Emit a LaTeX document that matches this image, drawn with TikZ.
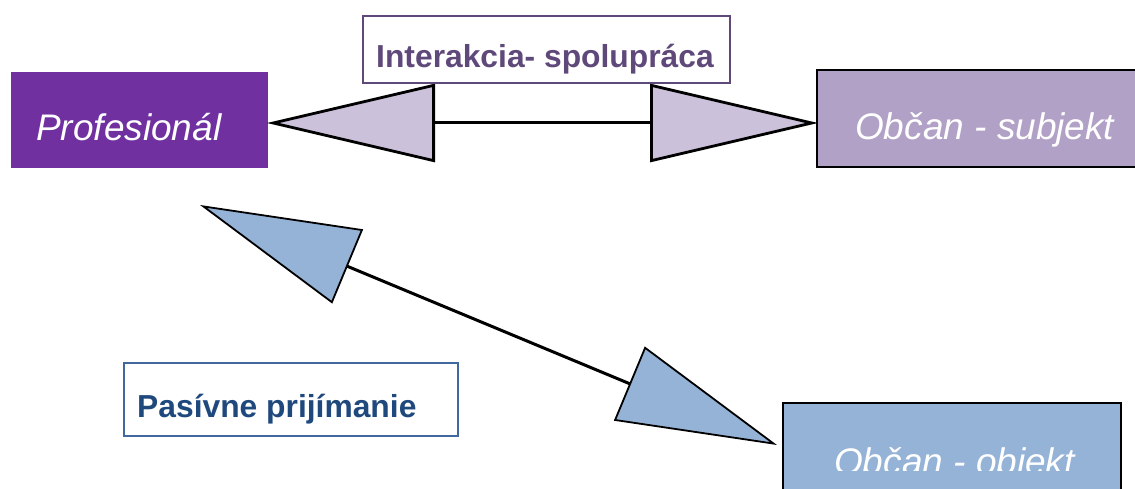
\documentclass[tikz,border=0pt]{standalone}
\usepackage{fontspec}
\setmainfont{Liberation Sans}
\usetikzlibrary{arrows.meta}
\definecolor{profc}{HTML}{7030A0}
\definecolor{subjc}{HTML}{B2A1C7}
\definecolor{lavc}{HTML}{CCC1DA}
\definecolor{bluec}{HTML}{95B3D7}
\definecolor{intc}{HTML}{5F497A}
\definecolor{pastext}{HTML}{1F497D}
\definecolor{pasline}{HTML}{41699E}
\begin{document}
\begin{tikzpicture}[x=1pt,y=-1pt,
  box/.style={inner sep=0pt, outer sep=0pt},
  biglbl/.style={font=\fontsize{37}{39}\selectfont\itshape, text=white, inner sep=0pt, anchor=base west},
  smalllbl/.style={font=\fontsize{31.8}{33}\selectfont\bfseries, inner sep=0pt},
  lavarrow/.style={line width=3pt,
    {Triangle[length=168pt,width=78pt,fill=lavc,line width=2.8pt]}-{Triangle[length=168pt,width=78pt,fill=lavc,line width=2.8pt]}},
  bluearrow/.style={line width=3pt,
    {Triangle[length=160pt,width=80pt,fill=bluec,line width=1.8pt]}-{Triangle[length=160pt,width=80pt,fill=bluec,line width=1.8pt]}}
]
\useasboundingbox (0,0) rectangle (1135,489);
\begin{scope}
\clip (0,0) rectangle (1135,489);
% Profesional
\node[box, fill=profc, minimum width=257pt, minimum height=96pt] (prof) at (139.5,120) {};
\node[biglbl] (proft) at (36,141) {Profesionál};
% top arrow
\coordinate (tL) at (267,123);
\coordinate (tR) at (818,123);
\draw[lavarrow] (tL) -- (tR);
% Obcan - subjekt
\node[box, draw=black, line width=2pt, fill=subjc, minimum width=343pt, minimum height=97pt] (subj) at (988.5,118.5) {};
\node[biglbl] (subjt) at (855,140) {Občan - subjekt};
% Interakcia
\node[box, draw=intc, line width=2pt, fill=white, minimum width=367pt, minimum height=67pt] (inter) at (546.5,49.5) {};
\node[smalllbl, text=intc, anchor=base] (intert) at (545,68) {Interakcia- spolupráca};
% diagonal arrow
\coordinate (dA) at (200,205);
\coordinate (dB) at (777,445);
\draw[bluearrow] (dA) -- (dB);
% Pasivne prijimanie
\node[box, draw=pasline, line width=1.5pt, fill=white, minimum width=334pt, minimum height=73pt] (pas) at (291,399.5) {};
\node[smalllbl, text=pastext, anchor=base west] (past) at (137,417) {Pasívne prijímanie};
% Obcan - objekt
\node[box, draw=black, line width=2pt, fill=bluec, minimum width=338pt, minimum height=117pt] (obj) at (952,461.5) {};
\begin{scope}
\clip (783,404) rectangle (1120,470.5);
\node[biglbl] (objt) at (834,474) {Občan - objekt};
\end{scope}
\end{scope}
\end{tikzpicture}
\end{document}
